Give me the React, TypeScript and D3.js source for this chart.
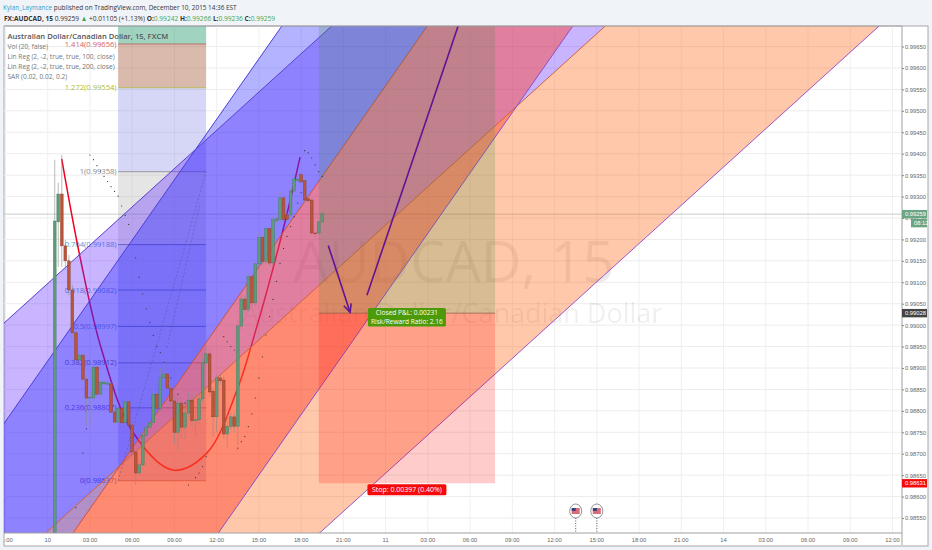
import React, { useEffect, useRef } from 'react'
import * as d3 from 'd3'

const W = 932, H = 550
const chartL = 4, chartR = 902, chartT = 26, chartB = 533

// bar index -> 15 min bars, 0 is Dec 10 00:00
const barDomain = [0, 240]
const priceDomain = [0.98515, 0.99698]

const timeTickBars = [-12, 0, 12, 24, 36, 48, 60, 72, 84, 96, 108, 120, 132, 144, 156, 168, 180, 192, 204, 216, 228, 240]
const timeTickLabels = ['21:00', '10', '03:00', '06:00', '09:00', '12:00', '15:00', '18:00', '21:00', '11', '03:00', '06:00', '09:00', '12:00', '15:00', '18:00', '21:00', '14', '03:00', '06:00', '09:00', '12:00']
const priceTicks = [0.9965, 0.996, 0.9955, 0.995, 0.9945, 0.994, 0.9935, 0.993, 0.9925, 0.992, 0.9915, 0.991, 0.9905, 0.99, 0.9895, 0.989, 0.9885, 0.988, 0.9875, 0.987, 0.9865, 0.986, 0.9855]

// candles, first one is bar 2
const firstBar = 2
const opens = [0.98515, 0.99241, 0.99306, 0.99185, 0.9915, 0.99082, 0.98982, 0.98919, 0.9893, 0.98874, 0.9883, 0.9883, 0.98902, 0.98839, 0.98863, 0.98862, 0.98863, 0.98797, 0.98774, 0.98806, 0.98772, 0.98821, 0.98767, 0.98704, 0.98655, 0.98674, 0.98743, 0.98762, 0.98772, 0.98839, 0.98806, 0.98877, 0.98886, 0.98853, 0.98823, 0.9875, 0.98818, 0.98762, 0.98795, 0.98825, 0.98777, 0.98779, 0.98828, 0.98912, 0.98933, 0.98846, 0.98786, 0.98877, 0.98872, 0.98746, 0.98764, 0.98786, 0.98764, 0.98998, 0.99061, 0.99036, 0.99113, 0.99052, 0.99143, 0.99204, 0.99148, 0.99225, 0.99145, 0.99243, 0.99246, 0.99297, 0.99257, 0.99257, 0.99313, 0.99337, 0.99351, 0.99337, 0.99295, 0.99292, 0.99215, 0.99215, 0.99241]
const highs = [0.99386, 0.99332, 0.99397, 0.99199, 0.99164, 0.99094, 0.98989, 0.98942, 0.98937, 0.98881, 0.98844, 0.98907, 0.98907, 0.98872, 0.9887, 0.98868, 0.98867, 0.98802, 0.98814, 0.98814, 0.98825, 0.98825, 0.98774, 0.98709, 0.98681, 0.9875, 0.98767, 0.98779, 0.98849, 0.98844, 0.989, 0.98919, 0.98893, 0.9886, 0.9883, 0.98835, 0.9883, 0.98805, 0.98845, 0.9884, 0.988, 0.9884, 0.98925, 0.9895, 0.98945, 0.98855, 0.98885, 0.98885, 0.9888, 0.9879, 0.98795, 0.98795, 0.9901, 0.9907, 0.9907, 0.9912, 0.9912, 0.9915, 0.99215, 0.9921, 0.99232, 0.99232, 0.99255, 0.99252, 0.9931, 0.99305, 0.99262, 0.9932, 0.9935, 0.9935, 0.99358, 0.99342, 0.99298, 0.99295, 0.99218, 0.99245, 0.99265]
const lows = [0.98515, 0.99136, 0.99136, 0.99129, 0.9907, 0.9897, 0.98912, 0.98914, 0.98867, 0.98767, 0.98762, 0.98825, 0.98832, 0.98835, 0.98858, 0.9886, 0.98793, 0.98769, 0.98769, 0.98767, 0.98764, 0.98762, 0.98699, 0.98627, 0.9865, 0.9867, 0.9874, 0.98758, 0.98767, 0.98802, 0.988, 0.98872, 0.98849, 0.98812, 0.98723, 0.98708, 0.98735, 0.98735, 0.98785, 0.98765, 0.9874, 0.9877, 0.9882, 0.98905, 0.98835, 0.9874, 0.9875, 0.9886, 0.98735, 0.98715, 0.98755, 0.9875, 0.9872, 0.9899, 0.99028, 0.9903, 0.99045, 0.99045, 0.99135, 0.9914, 0.99142, 0.99138, 0.9914, 0.99238, 0.9924, 0.9924, 0.9924, 0.9925, 0.99308, 0.99332, 0.9933, 0.99288, 0.99286, 0.9921, 0.99205, 0.9921, 0.99238]
const closes = [0.99243, 0.99306, 0.99185, 0.9915, 0.99082, 0.98982, 0.98919, 0.9893, 0.98874, 0.9883, 0.98832, 0.98902, 0.98839, 0.98867, 0.98867, 0.98865, 0.98797, 0.98774, 0.98806, 0.98772, 0.98821, 0.98767, 0.98704, 0.98655, 0.98674, 0.98743, 0.98762, 0.98772, 0.98839, 0.98806, 0.98877, 0.98886, 0.98853, 0.98823, 0.9875, 0.98818, 0.98762, 0.98795, 0.98825, 0.98777, 0.98779, 0.98828, 0.98912, 0.98933, 0.98844, 0.98786, 0.98877, 0.9887, 0.98746, 0.98764, 0.98786, 0.98764, 0.98998, 0.99061, 0.99036, 0.99113, 0.99052, 0.99143, 0.99204, 0.99148, 0.99225, 0.99145, 0.99246, 0.99248, 0.99297, 0.99246, 0.99246, 0.99313, 0.99341, 0.99341, 0.99334, 0.99292, 0.9929, 0.99215, 0.99214, 0.99241, 0.9926]

// parabolic SAR dots
const sarBars = [8, 10, 11, 12, 13, 14, 15, 16, 17, 18, 19, 20, 21, 22, 23, 25, 26, 27, 28, 29, 30, 31, 32, 33, 35, 37, 39, 40, 42, 43, 44, 45, 50, 51, 52, 53, 54, 55, 56, 57, 58, 59, 60, 61, 62, 63, 64, 65, 66, 67, 68, 69, 70, 71, 72, 73, 74, 75, 76, 77, 78]
const sarPrices = [0.98574, 0.98702, 0.98758, 0.99397, 0.99386, 0.99372, 0.9936, 0.99347, 0.99335, 0.99323, 0.99312, 0.99301, 0.99278, 0.99256, 0.99235, 0.99157, 0.99112, 0.99073, 0.99038, 0.99006, 0.98976, 0.9895, 0.98936, 0.98914, 0.98877, 0.98839, 0.98818, 0.98627, 0.98644, 0.98655, 0.9867, 0.98693, 0.98973, 0.98961, 0.9895, 0.98942, 0.98713, 0.98728, 0.9874, 0.98763, 0.98793, 0.9883, 0.98877, 0.98926, 0.98977, 0.9902, 0.9906, 0.99102, 0.99144, 0.99179, 0.99207, 0.9923, 0.99253, 0.99285, 0.99309, 0.99407, 0.99402, 0.9939, 0.99374, 0.99358, 0.99347]

// regression channels, prices at the two end bars
const channelBars = [-14, 260]
const ch100Upper = [0.98993, 1.01033]
const ch100Mid = [0.98415, 1.00454]
const ch100Lower = [0.97836, 0.99875]
const ch200Upper = [0.98752, 1.01971]
const ch200Mid = [0.98266, 1.01486]
const ch200Lower = [0.97781, 1.01]

// fib retracement
const fibBars = [20, 45]
const fibRatios = ['1.618', '1.414', '1.272', '1', '0.764', '0.618', '0.5', '0.382', '0.236', '0']
const fibPrices = [0.99804, 0.99656, 0.99554, 0.99358, 0.99188, 0.99082, 0.98997, 0.98912, 0.98807, 0.98637]
const fibLineColors = ['#2f9e75', '#b0504d', '#a6b52f', '#777777', '#3a5a90', '#3a5a90', '#3a5a90', '#555577', '#5a4a90', '#8a5a50']
const fibBandColors = ['#2f9e75', '#a85a3c', '#8a8ae4', '#b4b4b4', '#7f8fd8', '#7f8fd8', '#7f8fd8', '#7f8fd8', '#8a78d8', '#000000']
const fibLabelColors = ['', '#d9646a', '#a8bf3f', '#8a8a8a', '#4f9ad0', '#4f9ad0', '#4f9ad0', '#555a80', '#6a4fc0', '#5a4fc0']

// long position tool
const posBars = [77.0, 127.1]
const posTarget = 0.99886
const posEntry = 0.99028
const posStop = 0.98631

// hand drawn annotations
const arcBars = [3.98, 9.18, 15.34, 24.2, 35.6, 45.25, 53.8, 58.3, 66.85, 71.7]
const arcPrices = [0.99388, 0.99159, 0.98942, 0.9875, 0.98662, 0.98702, 0.98849, 0.98965, 0.99222, 0.99392]
const arrowDownBars = [79.7, 85.9]
const arrowDownPrices = [0.99186, 0.99030]
const arrowUpBars = [90.7, 116.6]
const arrowUpPrices = [0.99070, 0.99698]
const fibTrendBars = [20, 45]
const fibTrendPrices = [0.98637, 0.99358]
const fibTrend2Bars = [33.9, 43.3]
const fibTrend2Prices = [0.98947, 0.99285]

const flagBars = [150, 156]
const lastPrice = 0.99259

const App = () => {
    const ref = useRef<SVGSVGElement>(null)

    useEffect(() => {
        const svg = d3.select(ref.current)
        svg.selectAll('*').remove()

        const x = d3.scaleLinear().domain(barDomain).range([47.7, 892.5])
        const y = d3.scaleLinear().domain(priceDomain).range([chartB, chartT])

        const defs = svg.append('defs')
        defs.append('clipPath').attr('id', 'plot').append('rect')
            .attr('x', chartL).attr('y', chartT).attr('width', chartR - chartL).attr('height', chartB - chartT)
        defs.append('clipPath').attr('id', 'timeaxis').append('rect')
            .attr('x', chartL).attr('y', chartB).attr('width', chartR - chartL).attr('height', 13)

        // page + frame
        svg.append('rect').attr('width', W).attr('height', H).attr('fill', '#f0f3f8')
        svg.append('rect').attr('x', chartL).attr('y', chartT).attr('width', 924).attr('height', 520)
            .attr('fill', '#fff').attr('stroke', '#a8a8a8').attr('stroke-width', 1)

        const font = '"Open Sans", "Noto Sans", sans-serif'
        const axisFont = '"Liberation Sans", sans-serif'

        // header, squeezed a bit because the original font is narrower
        const h1 = svg.append('text').attr('transform', 'translate(3,10) scale(0.82,1)').attr('font-family', font).attr('font-size', 7.8).attr('fill', '#333')
        h1.append('tspan').attr('fill', '#2a9fd0').text('Kylan_Laymance')
        h1.append('tspan').text(' published on TradingView.com, December 10, 2015 14:36 EST')
        const h2 = svg.append('text').attr('transform', 'translate(4,20.5) scale(0.845,1)').attr('font-family', font).attr('font-size', 7.8).attr('fill', '#333')
        h2.append('tspan').attr('font-weight', 700).text('FX:AUDCAD, 15')
        h2.append('tspan').text(' 0.99259 ')
        h2.append('tspan').attr('fill', '#3fa85a').text('▲')
        h2.append('tspan').text(' +0.01105 (+1.13%) ')
        const ohlc = [['O:', '0.99242'], ['H:', '0.99266'], ['L:', '0.99236'], ['C:', '0.99259']]
        ohlc.forEach(d => {
            h2.append('tspan').attr('font-weight', 700).text(d[0])
            h2.append('tspan').attr('fill', '#3fa85a').text(d[1] + ' ')
        })

        const plot = svg.append('g').attr('clip-path', 'url(#plot)')

        // grid
        plot.append('g').selectAll('line').data(priceTicks).join('line')
            .attr('x1', chartL).attr('x2', chartR).attr('y1', d => y(d)).attr('y2', d => y(d))
            .attr('stroke', '#ececec')
        plot.append('g').selectAll('line').data(timeTickBars).join('line')
            .attr('x1', d => x(d)).attr('x2', d => x(d)).attr('y1', chartT).attr('y2', chartB)
            .attr('stroke', '#f0f0f0')

        // watermark
        plot.append('text').attr('x', 454).attr('y', 282).attr('text-anchor', 'middle')
            .attr('font-family', font).attr('font-size', 56).attr('fill', '#000').attr('fill-opacity', 0.08)
            .text('AUDCAD, 15')
        plot.append('text').attr('x', 452).attr('y', 323).attr('text-anchor', 'middle')
            .attr('font-family', font).attr('font-size', 27).attr('fill', '#000').attr('fill-opacity', 0.08)
            .text('Australian Dollar/Canadian Dollar')

        // last price line
        plot.append('line').attr('x1', chartL).attr('x2', chartR)
            .attr('y1', y(lastPrice)).attr('y2', y(lastPrice)).attr('stroke', '#c8ccc8').attr('stroke-width', 1)

        // fib bands
        fibPrices.slice(0, -1).forEach((p, i) => {
            plot.append('rect')
                .attr('x', x(fibBars[0])).attr('width', x(fibBars[1]) - x(fibBars[0]))
                .attr('y', y(p)).attr('height', y(fibPrices[i + 1]) - y(p))
                .attr('fill', fibBandColors[i]).attr('fill-opacity', i === 0 ? 0.45 : i === 1 ? 0.42 : 0.35)
        })
        plot.append('g').selectAll('line').data(fibPrices).join('line')
            .attr('x1', x(fibBars[0])).attr('x2', x(fibBars[1]))
            .attr('y1', d => y(d)).attr('y2', d => y(d))
            .attr('stroke', (d, i) => fibLineColors[i])
            .attr('stroke-opacity', 0.7)
        plot.append('g').selectAll('text').data(fibPrices.slice(1)).join('text')
            .attr('x', x(fibBars[0]) - 1.5).attr('y', d => y(d) + 2.6)
            .attr('text-anchor', 'end').attr('font-family', font).attr('font-size', 7.6)
            .attr('fill', (d, i) => fibLabelColors[i + 1])
            .text((d, i) => fibRatios[i + 1] + '(' + d.toFixed(5) + ')')

        // red arc goes under the channels, that is why it turns purple in the blue part
        const arcLine = d3.line<number>().x(d => x(d)).y((d, i) => y(arcPrices[i])).curve(d3.curveCatmullRom)
        plot.append('path').attr('d', arcLine(arcBars))
            .attr('fill', 'none').attr('stroke', '#f0001e').attr('stroke-width', 1.5)

        // channels
        const band = (top: number[], bottom: number[]) => d3.area<number>()
            .x(d => x(d)).y0((d, i) => y(bottom[i])).y1((d, i) => y(top[i]))(channelBars)
        const edge = (v: number[]) => d3.line<number>().x(d => x(d)).y((d, i) => y(v[i]))(channelBars)

        plot.append('path').attr('d', band(ch100Upper, ch100Mid)).attr('fill', 'rgb(98,40,255)').attr('fill-opacity', 0.35)
        plot.append('path').attr('d', band(ch100Mid, ch100Lower)).attr('fill', 'rgb(255,98,15)').attr('fill-opacity', 0.35)
        plot.append('path').attr('d', band(ch200Upper, ch200Mid)).attr('fill', 'rgb(38,38,255)').attr('fill-opacity', 0.35)
        plot.append('path').attr('d', band(ch200Mid, ch200Lower)).attr('fill', 'rgb(255,61,44)').attr('fill-opacity', 0.45)

        const edges: [number[], string][] = [
            [ch100Upper, '#5a3fd0'], [ch100Mid, '#d0603a'], [ch100Lower, '#9a55c8'],
            [ch200Upper, '#4a3fd8'], [ch200Mid, '#d0503a'], [ch200Lower, '#8a50c8'],
        ]
        edges.forEach(d => {
            plot.append('path').attr('d', edge(d[0])).attr('fill', 'none').attr('stroke', d[1]).attr('stroke-width', 1)
        })

        // long position boxes
        plot.append('rect').attr('x', x(posBars[0])).attr('width', x(posBars[1]) - x(posBars[0]))
            .attr('y', y(posTarget)).attr('height', y(posEntry) - y(posTarget))
            .attr('fill', '#3c8c3c').attr('fill-opacity', 0.2)
        plot.append('rect').attr('x', x(posBars[0])).attr('width', x(posBars[1]) - x(posBars[0]))
            .attr('y', y(posEntry)).attr('height', y(posStop) - y(posEntry))
            .attr('fill', '#ff0000').attr('fill-opacity', 0.2)
        plot.append('line').attr('x1', x(posBars[0])).attr('x2', x(posBars[1]))
            .attr('y1', y(posEntry)).attr('y2', y(posEntry)).attr('stroke', '#8a5a40').attr('stroke-opacity', 0.7)

        // fib trend lines
        const dashed = (bars: number[], prices: number[]) => {
            plot.append('line').attr('x1', x(bars[0])).attr('x2', x(bars[1]))
                .attr('y1', y(prices[0])).attr('y2', y(prices[1]))
                .attr('stroke', '#4a4a8a').attr('stroke-opacity', 0.6).attr('stroke-width', 0.7).attr('stroke-dasharray', '2,2')
        }
        dashed(fibTrendBars, fibTrendPrices)
        dashed(fibTrend2Bars, fibTrend2Prices)

        // candles
        const candles = plot.append('g').selectAll('g').data(opens).join('g')
        candles.append('line')
            .attr('x1', (d, i) => x(i + firstBar)).attr('x2', (d, i) => x(i + firstBar))
            .attr('y1', (d, i) => y(highs[i])).attr('y2', (d, i) => y(lows[i]))
            .attr('stroke', '#8c8c8c').attr('stroke-opacity', 0.6)
        candles.append('rect')
            .attr('x', (d, i) => x(i + firstBar) - 1.4).attr('width', 2.8)
            .attr('y', (d, i) => y(Math.max(d, closes[i])))
            .attr('height', (d, i) => Math.max(0.8, Math.abs(y(d) - y(closes[i]))))
            .attr('fill', (d, i) => closes[i] >= d ? '#5f9a7a' : '#b8563a')
            .attr('stroke', (d, i) => closes[i] >= d ? '#3d7a5c' : '#8a3a2a')
            .attr('stroke-width', 0.4)

        // SAR
        plot.append('g').selectAll('circle').data(sarBars).join('circle')
            .attr('cx', d => x(d)).attr('cy', (d, i) => y(sarPrices[i])).attr('r', 0.6).attr('fill', '#333')

        // arrows
        const arrowColor = '#5f1496'
        const arrow = (bars: number[], prices: number[], head: boolean) => {
            const x1 = x(bars[1]), y1 = y(prices[1]), x0 = x(bars[0]), y0 = y(prices[0])
            plot.append('line').attr('x1', x0).attr('y1', y0).attr('x2', x1).attr('y2', y1)
                .attr('stroke', arrowColor).attr('stroke-width', 1.6)
            if (head) {
                const a = Math.atan2(y1 - y0, x1 - x0)
                const p = d3.path()
                p.moveTo(x1 + 9 * Math.cos(a + 2.7), y1 + 9 * Math.sin(a + 2.7))
                p.lineTo(x1, y1)
                p.lineTo(x1 + 9 * Math.cos(a - 2.7), y1 + 9 * Math.sin(a - 2.7))
                plot.append('path').attr('d', p.toString()).attr('fill', 'none')
                    .attr('stroke', arrowColor).attr('stroke-width', 1.6)
            }
        }
        arrow(arrowDownBars, arrowDownPrices, true)
        arrow(arrowUpBars, arrowUpPrices, false)

        // legend
        const legend = ['Australian Dollar/Canadian Dollar, 15, FXCM', 'Vol (20, false)', 'Lin Reg (2, -2, true, true, 100, close)', 'Lin Reg (2, -2, true, true, 200, close)', 'SAR (0.02, 0.02, 0.2)']
        svg.append('g').selectAll('text').data(legend).join('text')
            .attr('x', 7.5).attr('y', (d, i) => 38.5 + i * 10)
            .attr('font-family', font).attr('font-size', (d, i) => i === 0 ? 7.6 : 6.6)
            .attr('font-weight', (d, i) => i === 0 ? 600 : 400)
            .attr('fill', (d, i) => i === 0 ? '#555' : '#777')
            .text(d => d)

        // position labels
        const tag = (cx: number, cy: number, w: number, h: number, fill: string, size: number, lines: string[]) => {
            svg.append('rect').attr('x', cx - w / 2).attr('y', cy - h / 2).attr('width', w).attr('height', h)
                .attr('rx', 1.5).attr('fill', fill)
            lines.forEach((t, i) => {
                svg.append('text').attr('x', cx).attr('y', cy + 2.4 + (i - (lines.length - 1) / 2) * 9)
                    .attr('text-anchor', 'middle').attr('font-family', font).attr('font-size', size)
                    .attr('fill', '#fff').text(t)
            })
        }
        const posMid = (x(posBars[0]) + x(posBars[1])) / 2
        tag(posMid, y(posEntry) + 4, 78, 18.5, '#4d9a08', 6.6, ['Closed P&L: 0.00231', 'Risk/Reward Ratio: 2.16'])
        tag(posMid, y(posStop) + 6.5, 79, 11, '#f50a0a', 7, ['Stop: 0.00397 (0.40%)'])

        // events
        flagBars.forEach(b => {
            const g = svg.append('g').attr('transform', `translate(${x(b)},${chartB - 22})`)
            g.append('line').attr('y1', 7).attr('y2', 22).attr('stroke', '#666').attr('stroke-dasharray', '1,1.5')
            g.append('ellipse').attr('rx', 6).attr('ry', 7).attr('fill', '#fff').attr('stroke', '#666').attr('stroke-width', 0.7)
            g.append('rect').attr('x', -4).attr('y', -3).attr('width', 8).attr('height', 6).attr('fill', '#d86a7a')
            g.append('rect').attr('x', -4).attr('y', -3).attr('width', 4).attr('height', 3).attr('fill', '#39407a')
        })

        // axes
        const timeAxis = svg.append('g').attr('clip-path', 'url(#timeaxis)')
        timeAxis.selectAll('text').data(timeTickBars).join('text')
            .attr('x', d => x(d)).attr('y', chartB + 9).attr('text-anchor', 'middle')
            .attr('font-family', axisFont).attr('font-size', 5.8).attr('fill', '#666')
            .text((d, i) => timeTickLabels[i])
        svg.append('line').attr('x1', chartL).attr('x2', chartR).attr('y1', chartB).attr('y2', chartB)
            .attr('stroke', '#a0a0a0').attr('stroke-width', 1)
        svg.append('line').attr('x1', chartR).attr('x2', chartR).attr('y1', chartT).attr('y2', 545)
            .attr('stroke', '#a0a0a0').attr('stroke-width', 1)
        svg.append('line').attr('x1', chartL).attr('x2', chartR).attr('y1', chartT).attr('y2', chartT)
            .attr('stroke', '#a8a8a8').attr('stroke-width', 1)

        const priceAxis = d3.axisRight(y).tickValues(priceTicks).tickFormat(d3.format('.5f')).tickSize(2).tickPadding(1)
        const pa = svg.append('g').attr('transform', `translate(${chartR},0)`).call(priceAxis)
        pa.select('.domain').remove()
        pa.selectAll('line').attr('stroke', '#888')
        pa.selectAll('text').attr('font-family', axisFont).attr('font-size', 5.8).attr('fill', '#666')

        // price flags on the axis
        const flag = (p: number, fill: string, txt: string, dx = 0, dy = 0) => {
            svg.append('rect').attr('x', chartR + dx).attr('y', y(p) - 4.2 + dy).attr('width', 25 - dx).attr('height', 8.4).attr('fill', fill)
            svg.append('text').attr('x', chartR + 3 + dx).attr('y', y(p) + 2 + dy)
                .attr('font-family', axisFont).attr('font-size', 5.8).attr('fill', '#fff').text(txt)
        }
        flag(lastPrice, '#6ba583', '0.99259')
        flag(lastPrice, '#6ba583', '08:12', 9, 9)
        flag(posEntry, '#444', '0.99028')
        flag(posStop, '#f50a0a', '0.98631')
    }, [])

    return <svg ref={ref} width={W} height={H} style={{ position: 'absolute', left: 0, top: 0 }} />
}

export default App
